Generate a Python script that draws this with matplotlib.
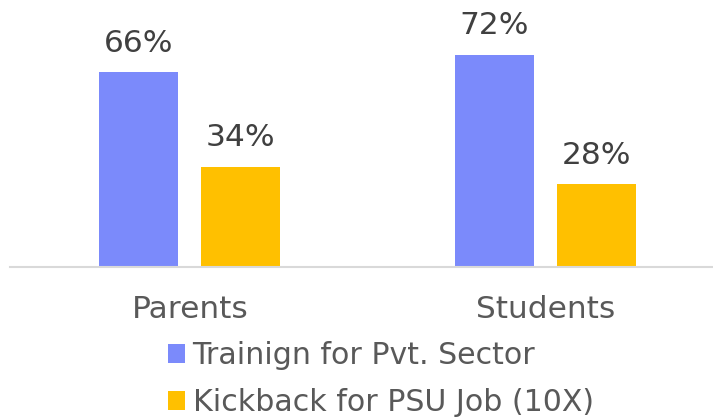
import matplotlib
matplotlib.use("Agg")
import matplotlib.pyplot as plt
import numpy as np

categories = ["Parents", "Students"]
series_names = ["Trainign for Pvt. Sector", "Kickback for PSU Job (10X)"]
training = [66, 72]
kickback = [34, 28]
colors = ["#7B8AFB", "#FFC000"]

fig = plt.figure(figsize=(7.13, 4.2), dpi=100)
ax = fig.add_axes([12.25 / 713, (420 - 267) / 420, (723 - 12.25) / 713, 236 / 420])

x = np.arange(len(categories))
w = 0.222
off = 0.1435
b1 = ax.bar(x - off, training, w, color=colors[0], label=series_names[0])
b2 = ax.bar(x + off, kickback, w, color=colors[1], label=series_names[1])

for bars, vals in ((b1, training), (b2, kickback)):
    for rect, v in zip(bars, vals):
        ax.annotate(f"{v}%", (rect.get_x() + rect.get_width() / 2, rect.get_height()),
                    xytext=(0, 10.5), textcoords="offset points", ha="center", va="bottom",
                    fontsize=22.5, color="#404040")

ax.set_xlim(-0.5, 1.5)
ax.set_ylim(0, 80)
ax.set_xticks(x)
ax.set_xticklabels(categories, fontsize=22.5, color="#595959")
ax.tick_params(axis="x", length=0, pad=20)
ax.set_yticks([])
for s in ("top", "right", "left"):
    ax.spines[s].set_visible(False)
ax.spines["bottom"].set_color("#D9D9D9")
ax.spines["bottom"].set_linewidth(1.5)
ax.spines["bottom"].set_bounds(-0.5 - 2.25 / 355.5, 1.5)

leg = fig.legend(handles=[b1, b2], labels=series_names, loc="upper left",
                 bbox_to_anchor=(168 / 713, 1 - 341 / 420), frameon=False,
                 fontsize=21.6, handlelength=0.57, handleheight=0.57,
                 handletextpad=0.25, labelspacing=0.6, borderaxespad=0, borderpad=0)
for t in leg.get_texts():
    t.set_color("#595959")

fig.savefig("out.png", dpi=100)
